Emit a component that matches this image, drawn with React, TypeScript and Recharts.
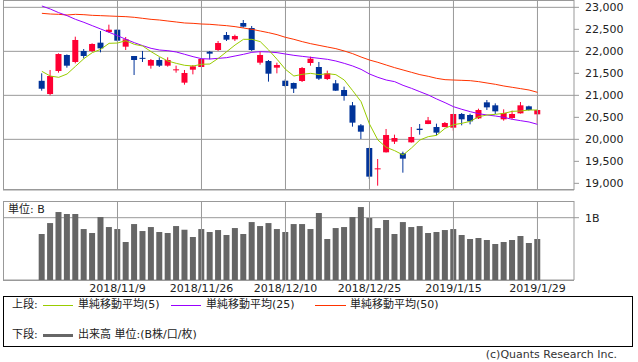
import React from "react";
import {
  ComposedChart,
  BarChart,
  Bar,
  Line,
  XAxis,
  YAxis,
  CartesianGrid,
  ReferenceLine,
} from "recharts";

const dates = [
  "2018/10/29", "2018/10/30", "2018/10/31", "2018/11/1", "2018/11/2", "2018/11/5", "2018/11/6", "2018/11/7", "2018/11/8", "2018/11/9",
  "2018/11/12", "2018/11/13", "2018/11/14", "2018/11/15", "2018/11/16", "2018/11/19", "2018/11/20", "2018/11/21", "2018/11/22", "2018/11/26",
  "2018/11/27", "2018/11/28", "2018/11/29", "2018/11/30", "2018/12/3", "2018/12/4", "2018/12/5", "2018/12/6", "2018/12/7", "2018/12/10",
  "2018/12/11", "2018/12/12", "2018/12/13", "2018/12/14", "2018/12/17", "2018/12/18", "2018/12/19", "2018/12/20", "2018/12/21", "2018/12/25",
  "2018/12/26", "2018/12/27", "2018/12/28", "2019/1/4", "2019/1/7", "2019/1/8", "2019/1/9", "2019/1/10", "2019/1/11", "2019/1/15",
  "2019/1/16", "2019/1/17", "2019/1/18", "2019/1/21", "2019/1/22", "2019/1/23", "2019/1/24", "2019/1/25", "2019/1/28", "2019/1/29",
];

const openP = [
  21330, 21030, 21553, 21917, 21758, 22008, 22008, 22197, 22439, 22492,
  22106, 21894, 21852, 21674, 21803, 21674, 21583, 21288, 21583, 21644,
  21992, 22030, 22371, 22273, 22644, 22530, 21742, 21780, 21629, 21333,
  21280, 21326, 21735, 21644, 21371, 21273, 21121, 20773, 20318, 19803,
  19318, 19705, 19947, 19682, 19932, 20242, 20348, 20280, 20280, 20265,
  20576, 20553, 20477, 20841, 20773, 20455, 20485, 20591, 20750, 20568,
];
const highP = [
  21500, 21576, 21954, 21930, 22333, 22053, 22182, 22462, 22606, 22500,
  22326, 21894, 22008, 21826, 21864, 21864, 21674, 21576, 21689, 21841,
  22008, 22235, 22439, 22379, 22712, 22576, 21992, 21803, 21742, 21371,
  21290, 21644, 21879, 21758, 21561, 21348, 21197, 20848, 20348, 19810,
  19553, 20235, 20106, 19720, 20280, 20348, 20508, 20356, 20394, 20580,
  20598, 20583, 20697, 20894, 20818, 20682, 20652, 20848, 20765, 20675,
];
const lowP = [
  21105, 21000, 21515, 21629, 21727, 21841, 21985, 21977, 22424, 22227,
  22030, 21462, 21758, 21606, 21644, 21652, 21515, 21242, 21477, 21640,
  21818, 22008, 22235, 22235, 22538, 22008, 21697, 21311, 21500, 21182,
  21053, 21303, 21674, 21348, 21348, 21100, 20879, 20288, 20008, 19098,
  18947, 19700, 19894, 19242, 19925, 20106, 20345, 20091, 20275, 20197,
  20318, 20341, 20462, 20667, 20576, 20424, 20455, 20585, 20652, 20364,
];
const closeP = [
  21150, 21439, 21939, 21674, 22258, 21894, 22167, 22068, 22492, 22242,
  22273, 21803, 21846, 21803, 21674, 21803, 21591, 21508, 21659, 21826,
  21947, 22189, 22265, 22348, 22561, 22030, 21917, 21492, 21689, 21212,
  21151, 21621, 21833, 21379, 21500, 21106, 20985, 20379, 20174, 19152,
  19341, 20098, 20030, 19561, 20053, 20212, 20432, 20152, 20371, 20576,
  20455, 20409, 20667, 20727, 20636, 20598, 20576, 20773, 20667, 20667,
];

const ma5 = [
  21545, 21439, 21409, 21485, 21659, 21833, 21970, 22045, 22182, 22189,
  22242, 22159, 22121, 21992, 21879, 21780, 21727, 21682, 21667, 21705,
  21712, 21841, 21992, 22144, 22273, 22273, 22220, 22030, 21818, 21591,
  21439, 21477, 21500, 21470, 21492, 21470, 21348, 21106, 20856, 20348,
  19985, 19818, 19742, 19644, 19803, 19985, 20061, 20091, 20250, 20333,
  20364, 20409, 20515, 20553, 20568, 20591, 20636, 20644, 20667, 20667,
];
const ma25 = [
  23030, 22962, 22879, 22811, 22727, 22659, 22583, 22508, 22432, 22356,
  22273, 22197, 22129, 22068, 22030, 22015, 21985, 21932, 21879, 21833,
  21826, 21841, 21856, 21894, 21932, 21977, 21992, 21985, 21970, 21939,
  21909, 21886, 21864, 21841, 21818, 21780, 21727, 21667, 21591, 21485,
  21409, 21348, 21311, 21227, 21159, 21083, 21008, 20917, 20833, 20742,
  20682, 20629, 20583, 20553, 20530, 20500, 20455, 20424, 20394, 20341,
];
const ma50 = [
  22864, 22848, 22841, 22826, 22841, 22833, 22818, 22811, 22803, 22795,
  22788, 22773, 22750, 22727, 22712, 22689, 22667, 22644, 22636, 22621,
  22614, 22598, 22583, 22561, 22530, 22500, 22462, 22424, 22379, 22318,
  22273, 22220, 22174, 22136, 22098, 22061, 22008, 21947, 21871, 21803,
  21750, 21689, 21629, 21576, 21523, 21470, 21432, 21386, 21356, 21348,
  21341, 21333, 21311, 21280, 21250, 21212, 21182, 21152, 21121, 21068,
];

const volumeB = [
  0.738, 0.914, 1.091, 1.059, 1.059, 0.818, 0.754, 1.011, 0.85, 0.818,
  0.61, 0.898, 0.786, 0.85, 0.77, 0.754, 0.866, 0.807, 0.69, 0.818,
  0.77, 0.802, 0.722, 0.834, 0.738, 0.93, 0.866, 0.914, 0.818, 0.77,
  0.898, 0.898, 0.818, 1.075, 0.658, 0.834, 0.85, 1.011, 1.171, 0.995,
  0.834, 0.963, 0.738, 0.93, 0.85, 0.866, 0.754, 0.77, 0.802, 0.818,
  0.722, 0.658, 0.674, 0.642, 0.578, 0.61, 0.642, 0.706, 0.594, 0.658,
];

const priceTicks = [19000, 19500, 20000, 20500, 21000, 21500, 22000, 22500, 23000];
const volumeTicks = [1];
const dateTickIdx = [9, 19, 29, 39, 49, 59];

const xDomain = [-4.63, 63.35];
const priceDomain = [18848.5, 23166.7];
const volumeDomain = [0, 1.268];

const UP = "#ff0033";
const DOWN = "#003399";
const C_MA5 = "#99cc00";
const C_MA25 = "#9900ff";
const C_MA50 = "#ff3300";
const GRID = "#999999";
const FONT = '"DejaVu Sans", "Noto Sans CJK JP", sans-serif';

const data = dates.map((d, i) => ({
  i,
  date: d,
  open: openP[i],
  high: highP[i],
  low: lowP[i],
  close: closeP[i],
  range: [lowP[i], highP[i]],
  ma5: ma5[i],
  ma25: ma25[i],
  ma50: ma50[i],
  vol: volumeB[i],
}));

const Candle = (props: any) => {
  const { x, y, width, height, payload } = props;
  if (!payload || x == null) return null;
  const { open, close, high, low } = payload;
  const yTop = Math.min(y, y + height);
  const h = Math.abs(height);
  const span = high - low;
  const py = (v: number) => (span > 0 ? yTop + ((high - v) / span) * h : yTop);
  const up = close >= open;
  const color = up ? UP : DOWN;
  const cx = x + width / 2;
  const bTop = py(Math.max(open, close));
  const bBot = py(Math.min(open, close));
  return (
    <g>
      <line x1={cx} x2={cx} y1={yTop} y2={yTop + h} stroke={color} strokeWidth={1} />
      <rect x={x} y={bTop} width={width} height={Math.max(bBot - bTop, 1)} fill={color} />
    </g>
  );
};

const tickText = { fontSize: 11, fill: "#222", fontFamily: FONT };

export default function App() {
  return (
    <div
      style={{
        position: "fixed",
        left: 0,
        top: 0,
        width: 638,
        height: 362,
        background: "#fff",
        fontFamily: FONT,
        overflow: "hidden",
      }}
    >
      {/* Upper panel: candles + moving averages */}
      <div style={{ position: "absolute", left: 0, top: 0 }}>
        <ComposedChart
          width={638}
          height={191}
          data={data}
          margin={{ top: 0, right: 0, bottom: 1, left: 3 }}
        >
          <CartesianGrid vertical={false} stroke={GRID} />
          {dateTickIdx.map((t) => (
            <ReferenceLine key={t} x={t} stroke={GRID} />
          ))}
          <XAxis dataKey="i" type="number" domain={xDomain} hide allowDataOverflow />
          <YAxis
            orientation="right"
            width={64}
            domain={priceDomain}
            ticks={priceTicks}
            allowDataOverflow
            tickFormatter={(v: number) => v.toLocaleString("en-US")}
            tick={tickText}
            tickSize={5}
            tickMargin={6}
            tickLine={{ stroke: GRID }}
            axisLine={{ stroke: GRID }}
          />
          <Line dataKey="ma50" stroke={C_MA50} strokeWidth={1} dot={false} isAnimationActive={false} />
          <Line dataKey="ma25" stroke={C_MA25} strokeWidth={1} dot={false} isAnimationActive={false} />
          <Line dataKey="ma5" stroke={C_MA5} strokeWidth={1} dot={false} isAnimationActive={false} />
          <Bar dataKey="range" barSize={6} shape={Candle} isAnimationActive={false} />
        </ComposedChart>
      </div>
      <div
        style={{
          position: "absolute",
          left: 3,
          top: 0,
          width: 571,
          height: 190,
          borderLeft: `1px solid ${GRID}`,
          borderTop: `1px solid ${GRID}`,
          borderBottom: `1px solid ${GRID}`,
          boxSizing: "border-box",
          pointerEvents: "none",
        }}
      />

      {/* Lower panel: volume */}
      <div style={{ position: "absolute", left: 0, top: 201 }}>
        <BarChart
          width={638}
          height={95}
          data={data}
          margin={{ top: 0, right: 0, bottom: 0, left: 3 }}
        >
          <CartesianGrid vertical={false} stroke={GRID} />
          {dateTickIdx.map((t) => (
            <ReferenceLine key={t} x={t} stroke={GRID} />
          ))}
          <XAxis
            dataKey="i"
            type="number"
            domain={xDomain}
            allowDataOverflow
            ticks={dateTickIdx}
            tickFormatter={(v: number) => dates[v]}
            tick={tickText}
            tickLine={false}
            axisLine={false}
            tickSize={0}
            tickMargin={4}
            height={16}
            interval={0}
          />
          <YAxis
            orientation="right"
            width={64}
            domain={volumeDomain}
            ticks={volumeTicks}
            allowDataOverflow
            tickFormatter={(v: number) => `${v}B`}
            tick={tickText}
            tickSize={5}
            tickMargin={6}
            tickLine={{ stroke: GRID }}
            axisLine={{ stroke: GRID }}
          />
          <Bar dataKey="vol" fill="#666666" barSize={6} isAnimationActive={false} />
        </BarChart>
      </div>
      <div
        style={{
          position: "absolute",
          left: 3,
          top: 201,
          width: 571,
          height: 80,
          borderLeft: `1px solid ${GRID}`,
          borderTop: `1px solid ${GRID}`,
          borderBottom: `1px solid ${GRID}`,
          boxSizing: "border-box",
          pointerEvents: "none",
        }}
      />
      <div
        style={{
          position: "absolute",
          left: 8,
          top: 203,
          fontSize: 11,
          color: "#222",
          lineHeight: "14px",
          background: "#fff",
        }}
      >
        単位: B
      </div>

      {/* Legend box */}
      <div
        style={{
          position: "absolute",
          left: 3,
          top: 296,
          width: 630,
          height: 51,
          border: "1px solid #000",
          boxSizing: "border-box",
          fontSize: 11,
          color: "#222",
        }}
      >
        <div style={{ position: "absolute", left: 8, top: 1, lineHeight: "14px" }}>上段:</div>
        <div style={{ position: "absolute", left: 39, top: 8, width: 30, height: 1, background: C_MA5 }} />
        <div style={{ position: "absolute", left: 74, top: 1, lineHeight: "14px" }}>単純移動平均(5)</div>
        <div style={{ position: "absolute", left: 167, top: 8, width: 30, height: 1, background: C_MA25 }} />
        <div style={{ position: "absolute", left: 202, top: 1, lineHeight: "14px" }}>単純移動平均(25)</div>
        <div style={{ position: "absolute", left: 311, top: 8, width: 31, height: 1, background: C_MA50 }} />
        <div style={{ position: "absolute", left: 346, top: 1, lineHeight: "14px" }}>単純移動平均(50)</div>

        <div style={{ position: "absolute", left: 8, top: 31, lineHeight: "14px" }}>下段:</div>
        <div style={{ position: "absolute", left: 39, top: 37, width: 30, height: 3, background: "#666" }} />
        <div style={{ position: "absolute", left: 74, top: 31, lineHeight: "14px" }}>出来高 単位:(B株/口/枚)</div>
      </div>

      <div
        style={{
          position: "absolute",
          right: 21,
          top: 348,
          fontSize: 11,
          color: "#333",
          lineHeight: "13px",
        }}
      >
        (c)Quants Research Inc.
      </div>
    </div>
  );
}
